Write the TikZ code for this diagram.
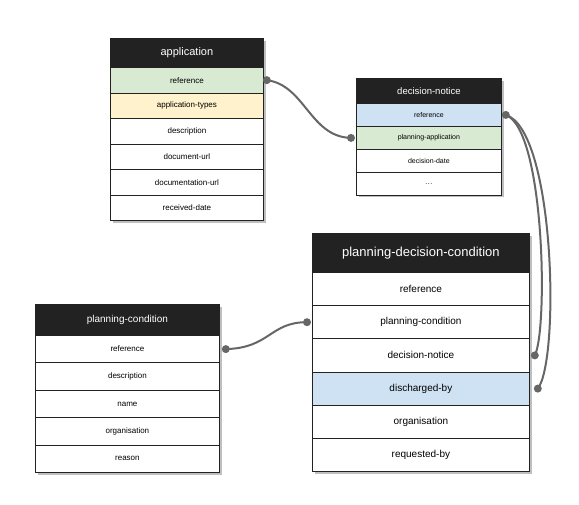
\documentclass[tikz,border=0pt]{standalone}
\usepackage{fontspec}
\setmainfont{Liberation Sans}
\definecolor{hd}{HTML}{222222}
\definecolor{gr}{HTML}{D9EAD3}
\definecolor{yl}{HTML}{FFF2CC}
\definecolor{bl}{HTML}{CFE2F3}
\definecolor{ln}{HTML}{666666}
\newcommand\mydots{.\kern0.5pt.\kern0.5pt.}
\tikzset{
 cell/.style={draw=hd,line width=0.8pt,anchor=north west,inner sep=0pt,fill=white},
 head/.style={cell,fill=hd,text=white},
 conn/.style={draw=ln,line width=2pt},
 dot/.style={circle,fill=ln,inner sep=0pt,minimum size=8pt},
 shad/.style={fill=black!25},
}
\begin{document}
\begin{tikzpicture}[x=1pt,y=-1pt]
\useasboundingbox (0,0) rectangle (579,504);
% application
\fill[shad] (113,41) rectangle (266,223);
\node[head,minimum width=153pt,minimum height=29pt,font=\fontsize{11}{13}\selectfont] (app) at (110,38) {application};
\foreach \t/\c [count=\i from 0] in {reference/gr,application-types/yl,description/white,document-url/white,documentation-url/white,received-date/white}
 \node[cell,fill=\c,minimum width=153pt,minimum height=25.5pt,font=\fontsize{8}{10}\selectfont] (app\i) at (110,67+\i*25.5) {\t};
% decision-notice
\fill[shad] (359,81) rectangle (504,197);
\node[head,minimum width=145pt,minimum height=25pt,font=\fontsize{9.5}{11}\selectfont] (dn) at (356,78) {decision-notice};
\foreach \t/\c [count=\i from 0] in {reference/bl,planning-application/gr,decision-date/white,\mydots/white}
 \node[cell,fill=\c,minimum width=145pt,minimum height=23pt,font=\fontsize{7}{9}\selectfont] (dn\i) at (356,103+\i*23) {\t};
% planning-decision-condition
\fill[shad] (315,236) rectangle (532,474);
\node[head,minimum width=217pt,minimum height=39pt,font=\fontsize{13}{15}\selectfont] (pdc) at (312,233) {planning-decision-condition};
\foreach \t/\c [count=\i from 0] in {reference/white,planning-condition/white,decision-notice/white,discharged-by/bl,organisation/white,requested-by/white}
 \node[cell,fill=\c,minimum width=217pt,minimum height=33.2pt,font=\fontsize{10}{12}\selectfont] (pdc\i) at (312,272+\i*33.2) {\t};
% planning-condition
\fill[shad] (38,307) rectangle (222,475);
\node[head,minimum width=184pt,minimum height=31pt,font=\fontsize{10}{12}\selectfont] (pc) at (35,304) {planning-condition};
\foreach \t/\c [count=\i from 0] in {reference/white,description/white,name/white,organisation/white,reason/white}
 \node[cell,fill=\c,minimum width=184pt,minimum height=27.4pt,font=\fontsize{8}{10}\selectfont] (pc\i) at (35,335+\i*27.4) {\t};
% dots
\node[dot] (d1) at ([xshift=3pt]app0.east) {};
\node[dot] (d2) at ([xshift=-5pt]dn1.west) {};
\node[dot] (d3) at ([xshift=4pt]dn0.east) {};
\node[dot] (d4) at ([xshift=5pt]pdc2.east) {};
\node[dot] (d5) at ([xshift=8pt]pdc3.east) {};
\node[dot] (d6) at ([xshift=6pt]pc0.east) {};
\node[dot] (d7) at ([xshift=-5pt]pdc1.west) {};
% connectors
\draw[conn] (d1.center) .. controls (305,85) and (310,137) .. (d2.center);
\draw[conn] (d3.center) .. controls (545,130) and (548,330) .. (d4.center);
\draw[conn] (d3.center) .. controls (555,130) and (560,360) .. (d5.center);
\draw[conn] (d6.center) .. controls (270,348) and (270,322) .. (d7.center);
\end{tikzpicture}
\end{document}
